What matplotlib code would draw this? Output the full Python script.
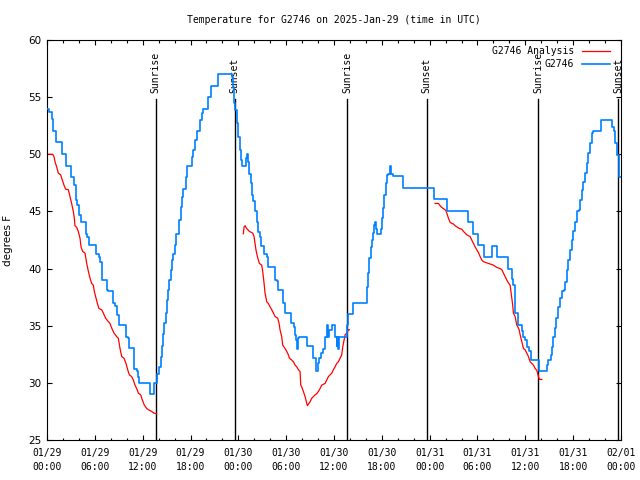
import matplotlib.pyplot as plt
import numpy as np

# 时间以 2025-01-29 00:00 UTC 起算的小时数
# 站点观测 G2746 (阶梯状)
obs_t = [0, 0.29, 0.59, 0.79, 1.13, 1.84, 2.4, 2.97, 3.35, 3.64, 3.81, 4.06, 4.27, 4.85, 5.06, 5.31,
         6.11, 6.52, 6.65, 6.86, 7.49, 7.61, 8.24, 8.53, 8.74, 9.03, 9.91, 10.2, 10.33, 10.96, 11.25,
         11.46, 11.59, 12.92, 13.43, 13.84, 14.05, 14.26, 14.47, 14.6, 14.72, 14.89, 15.01, 15.14,
         15.31, 15.52, 15.73, 15.85, 16.06, 16.19, 16.56, 16.77, 16.9, 17.11, 17.44, 17.61, 18.15,
         18.36, 18.57, 18.78, 19.2, 19.41, 19.61, 20.24, 20.58, 21.5, 23.17, 23.38, 23.5, 23.59,
         23.8, 24.01, 24.22, 24.34, 24.43, 24.97, 25.1, 25.26, 25.39, 25.55, 25.76, 25.89, 26.1,
         26.31, 26.52, 26.73, 26.81, 27.27, 27.56, 27.69, 28.61, 28.82, 29.03, 29.65, 29.86, 30.61,
         30.99, 31.12, 31.24, 31.33, 31.53, 31.66, 32.66, 33.42, 33.75, 33.96, 34.17, 34.34, 34.67,
         34.88, 35.09, 35.17, 35.3, 35.42, 35.72, 36.13, 36.34, 36.43, 36.55, 36.68, 37.68, 37.81,
         38.44, 40.11, 40.32, 40.44, 40.61, 40.74, 40.86, 41.07, 41.15, 41.28, 41.45, 41.87, 41.99,
         42.2, 42.33, 42.49, 42.62, 42.83, 43.04, 43.16, 43.45, 44.6, 48.6, 50.15, 52.87, 53.49,
         54.12, 54.87, 55.79, 56.4, 57.88, 58.3, 58.51, 58.72, 59.14, 59.56, 59.77, 59.97, 60.18,
         60.52, 60.73, 61.77, 62.69, 62.82, 63.2, 63.32, 63.53, 63.66, 63.86, 64.16, 64.37, 64.58,
         64.79, 64.99, 65.2, 65.41, 65.62, 65.83, 66.04, 66.25, 66.46, 66.67, 66.88, 67.08, 67.29,
         67.5, 67.71, 67.92, 68.13, 68.34, 68.55, 69.51, 70.85, 71.06, 71.27, 71.48, 71.81, 72.0]
obs_v = [54.0, 53.7, 53.05, 52.0, 51.1, 50.0, 49.0, 48.0, 47.3, 46.0, 45.6, 44.7, 44.1, 43.0, 42.8, 42.05,
         41.3, 41.0, 40.6, 39.0, 38.1, 38.0, 37.0, 36.7, 35.9, 35.05, 34.0, 33.9, 33.05, 31.2, 31.0,
         30.5, 30.0, 29.0, 30.0, 30.8, 31.4, 32.3, 33.2, 34.3, 35.2, 36.1, 37.25, 38.1,
         39.0, 39.9, 40.75, 41.3, 42.05, 43.0, 44.25, 45.4, 46.3, 47.0, 48.0, 49.0, 49.8,
         50.4, 51.25, 52.0, 53.0, 53.6, 54.0, 55.0, 56.0, 57.0, 56.8, 55.9, 54.5, 53.9,
         52.7, 51.5, 50.4, 49.5, 49.0, 49.65, 50.0, 49.35, 48.3, 47.5, 46.4, 45.9, 45.0,
         44.1, 43.2, 42.8, 42.0, 41.3, 41.0, 40.1, 39.0, 38.9, 38.1, 37.0, 36.1, 35.2,
         34.9, 34.2, 33.75, 33.0, 33.9, 34.05, 33.2, 32.15, 31.05, 31.7, 32.15, 32.6, 33.0,
         34.05, 34.6, 35.05, 34.05, 34.6, 35.05, 34.05, 33.2, 34.05, 33.0, 34.05, 35.05, 36.0,
         37.0, 38.4, 39.6, 40.9, 41.9, 42.5, 43.1, 43.8, 44.1, 43.5, 43.0, 43.5, 44.4,
         45.3, 46.4, 47.5, 48.2, 48.3, 49.0, 48.3, 48.1, 47.05, 46.05, 45.05, 44.05, 43.0,
         42.05, 41.0, 42.0, 41.0, 40.0, 39.05, 38.55, 36.1, 35.05, 34.5, 34.05, 33.75, 33.15,
         32.75, 32.0, 31.0, 31.55, 32.0, 32.45, 33.15, 34.05, 34.8, 35.65, 36.65, 37.4, 38.0,
         38.15, 38.85, 39.9, 40.75, 41.6, 42.5, 43.25, 44.1, 45.0, 45.15, 46.0, 46.9, 47.6,
         48.35, 49.2, 50.1, 50.95, 51.85, 52.0, 53.0, 52.4, 52.0, 50.95, 49.95, 48.05, 48.05]

# 分析场 G2746 Analysis (三段, 以 nan 断开)
ana_t = [0, 0.71, 0.88, 1.0, 1.21, 1.42, 1.71, 1.92, 2.13, 2.34, 2.68, 2.89, 3.09, 3.3, 3.43, 3.51,
         3.72, 3.93, 4.14, 4.27, 4.47, 4.77, 4.98, 5.19, 5.4, 5.6, 5.81, 5.94, 6.15, 6.32, 6.52,
         6.86, 7.07, 7.36, 7.7, 7.9, 8.11, 8.41, 8.74, 8.95, 9.16, 9.37, 9.66, 9.91, 10.12, 10.33,
         10.62, 10.83, 11.04, 11.25, 11.46, 11.75, 11.96, 12.21, 12.51, 12.84, 13.13, 13.42, 13.76,
         np.nan,
         24.63, 24.72, 24.84, 25.05, 25.39, 25.81, 25.97, 26.1, 26.22, 26.39, 26.64, 26.93, 27.06,
         27.23, 27.35, 27.56, 27.77, 27.98, 28.19, 28.4, 28.61, 28.94, 29.11, 29.23, 29.44, 29.57,
         29.86, 30.07, 30.28, 30.41, 30.7, 30.91, 31.12, 31.33, 31.53, 31.74, 31.83, 31.95, 32.16,
         32.37, 32.58, 32.66, 33.0, 33.21, 33.63, 33.84, 34.04, 34.25, 34.46, 34.88, 35.09, 35.3,
         35.51, 35.72, 35.93, 36.13, 36.34, 36.55, 36.76, 36.97, 37.1, 37.27, 37.39, 37.6, 37.81,
         37.93,
         np.nan,
         48.68, 49.1, 49.31, 49.52, 49.81, 50.02, 50.15, 50.36, 50.56, 50.77, 50.98, 51.19, 51.4,
         51.73, 52.03, 52.24, 52.45, 52.66, 53.07, 53.28, 53.49, 53.7, 53.91, 54.12, 54.33, 54.54,
         54.75, 55.16, 55.58, 56.0, 56.42, 56.84, 57.05, 57.26, 57.47, 57.67, 57.88, 58.09, 58.22,
         58.39, 58.51, 58.72, 58.93, 59.06, 59.22, 59.35, 59.56, 59.77, 59.97, 60.18, 60.39, 60.6,
         60.81, 61.02, 61.23, 61.44, 61.65, 61.77, 62.07]
ana_v = [50.0, 50.0, 49.8, 49.35, 48.9, 48.35, 48.2, 47.75, 47.3, 46.95, 46.9, 46.3, 45.7, 45.0, 44.4, 43.75,
         43.6, 43.25, 42.65, 41.9, 41.5, 41.35, 40.45, 39.75, 39.15, 38.7, 38.55, 38.0, 37.4, 36.95, 36.5,
         36.4, 36.1, 35.65, 35.35, 35.2, 34.8, 34.35, 34.05, 33.9, 33.0, 32.3, 32.15, 31.7, 31.15, 30.7,
         30.55, 30.25, 29.8, 29.5, 29.1, 28.95, 28.5, 28.05, 27.75, 27.6, 27.5, 27.35, 27.3,
         np.nan,
         43.05, 43.65, 43.75, 43.5, 43.25, 43.1, 42.8, 42.2, 41.6, 41.05, 40.45, 40.3, 39.75,
         38.7, 37.85, 37.1, 36.95, 36.65, 36.4, 36.1, 35.8, 35.65, 35.2, 34.65, 34.05, 33.3,
         33.0, 32.75, 32.45, 32.15, 32.0, 31.85, 31.55, 31.4, 31.15, 31.0, 29.8, 29.65, 29.25,
         28.8, 28.2, 28.0, 28.35, 28.65, 28.95, 29.05, 29.25, 29.5, 29.8, 29.95, 30.25, 30.55,
         30.7, 30.85, 31.15, 31.4, 31.7, 31.85, 32.15, 32.45, 33.15, 33.75, 34.2, 34.35, 34.65,
         34.65,
         np.nan,
         45.7, 45.7, 45.5, 45.35, 45.2, 45.1, 44.85, 44.4, 44.05, 43.95, 43.9, 43.75, 43.65,
         43.5, 43.45, 43.25, 43.1, 42.95, 42.8, 42.5, 42.2, 41.9, 41.65, 41.4, 41.05, 40.75,
         40.6, 40.5, 40.4, 40.3, 40.1, 40.0, 39.9, 39.6, 39.3, 39.0, 38.75, 38.55, 37.85,
         36.95, 36.1, 35.8, 35.05, 34.9, 34.65, 34.2, 33.6, 33.0, 32.9, 32.6, 32.3, 31.85,
         31.7, 31.55, 31.25, 31.1, 30.55, 30.3, 30.3]

# 日出日落时刻
sunrise = [13.62, 37.66, 61.65]
sunset = [23.55, 47.62, 71.68]

tick_hours = [0, 6, 12, 18, 24, 30, 36, 42, 48, 54, 60, 66, 72]
tick_labels = ['01/29\n00:00', '01/29\n06:00', '01/29\n12:00', '01/29\n18:00',
               '01/30\n00:00', '01/30\n06:00', '01/30\n12:00', '01/30\n18:00',
               '01/31\n00:00', '01/31\n06:00', '01/31\n12:00', '01/31\n18:00',
               '02/01\n00:00']

#%%
mono = 'DejaVu Sans Mono'
fig = plt.figure(figsize=(6.4, 4.8), dpi=100)
ax = fig.add_axes([47 / 640, 40 / 480, 574 / 640, 400 / 480])

# 日出日落竖线
for t in sunrise:
    ax.plot([t, t], [25, 54.8], color='k', lw=1.0, zorder=1)
    ax.text(t, 55.4, 'Sunrise', rotation=90, ha='center', va='bottom',
            family=mono, fontsize=7)
for t in sunset:
    ax.plot([t, t], [25, 54.8], color='k', lw=1.0, zorder=1)
    ax.text(t, 55.4, 'Sunset', rotation=90, ha='center', va='bottom',
            family=mono, fontsize=7)

ax.plot(ana_t, ana_v, color='#ff0000', lw=0.9, label='G2746 Analysis', zorder=2)
ax.plot(obs_t, obs_v, color='#0080ff', lw=1.2, drawstyle='steps-post', label='G2746', zorder=3)

ax.set_xlim(0, 72)
ax.set_ylim(25, 60)
ax.set_xticks(tick_hours)
ax.set_xticklabels(tick_labels, family=mono, fontsize=7, linespacing=1.5)
ax.set_xticks(np.arange(0, 73, 2), minor=True)
ax.set_yticks([25, 30, 35, 40, 45, 50, 55, 60])
ax.tick_params(which='both', direction='in', top=True, right=True, width=0.8)
ax.tick_params(which='major', length=3.6)
ax.tick_params(which='minor', length=1.8)
ax.tick_params(axis='x', which='major', pad=5.5)
ax.tick_params(axis='y', labelsize=7.5, pad=4)
for s in ax.spines.values():
    s.set_linewidth(0.8)

ax.set_ylabel('degrees F', fontsize=7.5)
ax.yaxis.set_label_coords(-0.06, 0.5)
ax.set_title('Temperature for G2746 on 2025-Jan-29 (time in UTC)', family=mono, fontsize=7, pad=12)

ax.legend(loc='upper right', bbox_to_anchor=(1 - 11 / 574, 1 - 6 / 400), markerfirst=False,
          frameon=False, prop={'family': mono, 'size': 7}, handlelength=2.9,
          handletextpad=0.8, borderpad=0, borderaxespad=0, labelspacing=0.3)

plt.savefig('out.png', dpi=100)
